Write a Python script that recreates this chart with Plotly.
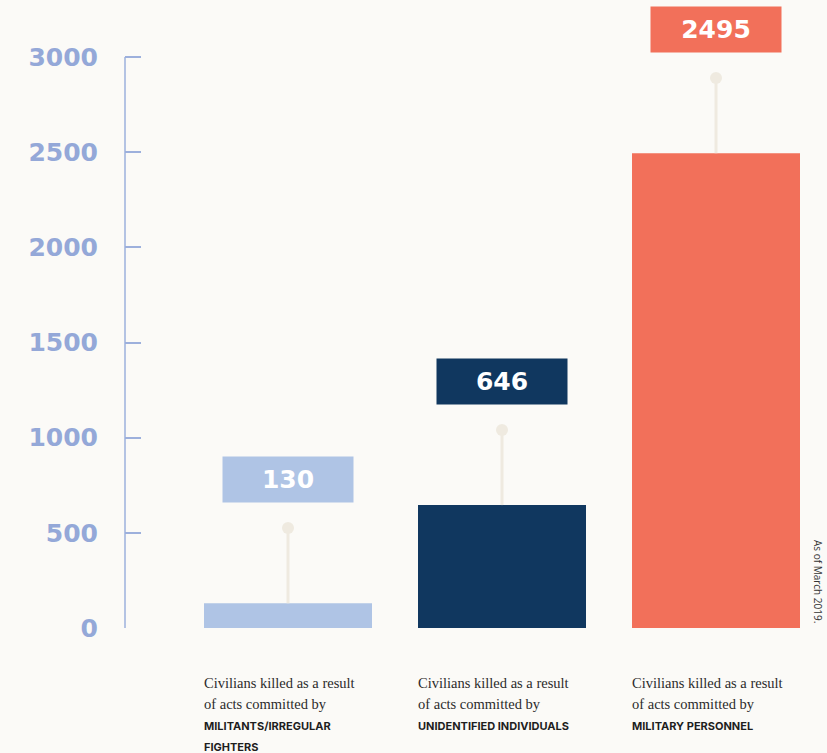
import plotly.graph_objects as go

# Data
categories = ["Militants/Irregular fighters", "Unidentified individuals", "Military personnel"]
values = [130, 646, 2495]
bar_colors = ["#AFC4E5", "#10375F", "#F2705A"]
line1 = "Civilians killed as a result"
line2 = "of acts committed by"
cap_lines = [["MILITANTS/IRREGULAR", "FIGHTERS"], ["UNIDENTIFIED INDIVIDUALS"], ["MILITARY PERSONNEL"]]
tick_vals = [0, 500, 1000, 1500, 2000, 2500, 3000]
note = "As of March 2019."

BG = "#FBFAF7"
AXIS = "#9DB0DC"
STEM = "#EFEAE0"
STEM_LEN = 395
LABEL_OFF = 648

xs = list(range(len(categories)))

fig = go.Figure()
# stems
sx, sy = [], []
for x, v in zip(xs, values):
    sx += [x, x, None]
    sy += [v, v + STEM_LEN, None]
fig.add_trace(go.Scatter(x=sx, y=sy, mode="lines", line=dict(color=STEM, width=3),
                         hoverinfo="skip", showlegend=False, cliponaxis=False))
fig.add_trace(go.Scatter(x=xs, y=[v + STEM_LEN for v in values], mode="markers",
                         marker=dict(color=STEM, size=12), hoverinfo="skip",
                         showlegend=False, cliponaxis=False))
fig.add_trace(go.Bar(x=xs, y=values, marker=dict(color=bar_colors, line=dict(width=0)),
                     width=0.785, hoverinfo="skip", showlegend=False))

# y axis line (0..3000)
fig.add_shape(type="line", xref="paper", yref="y", x0=0, x1=0, y0=0, y1=3000,
              line=dict(color=AXIS, width=1.5))

# value label boxes
for x, v, c in zip(xs, values, bar_colors):
    fig.add_annotation(x=x, y=v + LABEL_OFF, xref="x", yref="y", text=f"<b>{v}</b>",
                       showarrow=False, width=130, height=45, bgcolor=c, borderpad=0,
                       font=dict(family="DejaVu Sans", size=25, color="white"),
                       xanchor="center", yanchor="middle")

# category labels below
def paper_y(p):
    return (628 - p) / 628

for x, caps in zip(xs, cap_lines):
    left = x - 0.785 / 2
    fig.add_annotation(x=left, y=paper_y(683), xref="x", yref="paper", text=line1,
                       showarrow=False, xanchor="left", yanchor="middle", xshift=-2,
                       font=dict(family="Liberation Serif", size=14.5, color="#2b2b2b"))
    fig.add_annotation(x=left, y=paper_y(704), xref="x", yref="paper", text=line2,
                       showarrow=False, xanchor="left", yanchor="middle", xshift=-2,
                       font=dict(family="Liberation Serif", size=14.5, color="#2b2b2b"))
    for k, cl in enumerate(caps):
        fig.add_annotation(x=left, y=paper_y(726 + 21 * k), xref="x", yref="paper",
                           text=f"<b>{cl}</b>", showarrow=False, xanchor="left",
                           yanchor="middle", xshift=-2,
                           font=dict(family="Inter", size=11, color="#1e1e1e"))

# note
fig.add_annotation(x=1, xshift=11, y=paper_y(581), xref="paper", yref="paper", text=note,
                   textangle=90, showarrow=False, xanchor="center", yanchor="middle",
                   font=dict(family="Open Sans", size=10, color="#333333"))

fig.update_layout(
    width=827, height=753,
    margin=dict(l=125, r=20, t=0, b=125),
    paper_bgcolor=BG, plot_bgcolor=BG,
    xaxis=dict(range=[-0.7617, 2.4252], showticklabels=False, showgrid=False,
               zeroline=False, showline=False, ticks=""),
    yaxis=dict(range=[0, 3300], tickvals=tick_vals, ticktext=[str(t) for t in tick_vals],
               showgrid=False, zeroline=False, showline=False,
               ticks="inside", ticklen=16, tickwidth=1.5, tickcolor=AXIS,
               ticklabelstandoff=26,
               tickfont=dict(family="DejaVu Sans", size=25, color="#94A8D8", weight="bold")),
    showlegend=False,
)

fig.write_html("out.html", config={"displayModeBar": False},
               post_script="document.body.style.margin='0';document.body.style.background='#FBFAF7';")
